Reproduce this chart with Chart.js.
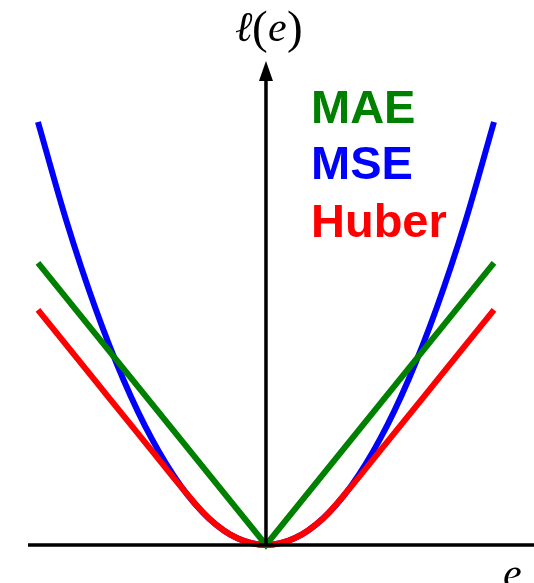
<!DOCTYPE html>
<html>
<head>
<meta charset="utf-8">
<script src="https://cdn.jsdelivr.net/npm/chart.js@4/dist/chart.umd.min.js"></script>
<style>
  html, body { margin: 0; padding: 0; background: #fff; }
  #wrap { width: 534px; height: 583px; position: relative; }
</style>
</head>
<body>
<div id="wrap"><canvas id="lossChart"></canvas></div>
<script>
// error values and loss readings
const maeErrors = [-2, 0, 2];
const maeLoss = [2, 0, 2];

const mseErrors = [-2, -1.75, -1.5, -1.25, -1, -0.75, -0.5, -0.25, 0, 0.25, 0.5, 0.75, 1, 1.25, 1.5, 1.75, 2];
const mseLoss = [3, 2.297, 1.688, 1.172, 0.75, 0.422, 0.188, 0.047, 0, 0.047, 0.188, 0.422, 0.75, 1.172, 1.688, 2.297, 3];

const huberErrors = [-2, -1.75, -1.5, -1.25, -1, -0.75, -0.5, -0.25, 0, 0.25, 0.5, 0.75, 1, 1.25, 1.5, 1.75, 2];
const huberLoss = [1.667, 1.417, 1.167, 0.917, 0.667, 0.417, 0.188, 0.047, 0, 0.047, 0.188, 0.417, 0.667, 0.917, 1.167, 1.417, 1.667];

const seriesNames = ['MAE', 'MSE', 'Huber'];
const seriesColors = ['#008000', '#0000ff', '#ff0000'];

function toPoints(xs, ys) {
    return xs.map((x, i) => ({ x: x, y: ys[i] }));
}

// axes with arrow, axis labels and coloured names
const lossDecor = {
    id: 'lossDecor',
    afterDatasetsDraw(chart) {
        const ctx = chart.ctx;
        const sx = chart.scales.x, sy = chart.scales.y;
        const x0 = sx.getPixelForValue(0);
        const y0 = sy.getPixelForValue(0);
        ctx.save();
        ctx.strokeStyle = '#000';
        ctx.fillStyle = '#000';
        ctx.lineWidth = 3.5;
        ctx.beginPath();
        ctx.moveTo(28, y0);
        ctx.lineTo(chart.width, y0);
        ctx.moveTo(x0, y0);
        ctx.lineTo(x0, 76);
        ctx.stroke();
        ctx.beginPath();
        ctx.moveTo(x0, 61);
        ctx.lineTo(x0 - 7, 81);
        ctx.lineTo(x0 + 7, 81);
        ctx.closePath();
        ctx.fill();

        ctx.textBaseline = 'alphabetic';
        ctx.textAlign = 'left';
        ctx.font = 'italic 42px "Liberation Serif", "DejaVu Serif", serif';
        ctx.fillText('\u2113', 235, 41);
        ctx.fillText('e', 268, 41);
        ctx.font = '47px "Liberation Serif", "DejaVu Serif", serif';
        ctx.fillText('(', 252, 43);
        ctx.fillText(')', 287, 43);
        ctx.font = 'italic 42px "Liberation Serif", "DejaVu Serif", serif';
        ctx.fillText('e', 503, 587);

        ctx.font = 'bold 47px "Liberation Sans", Arial, sans-serif';
        const baselines = [123, 179, 237];
        seriesNames.forEach((name, i) => {
            ctx.fillStyle = seriesColors[i];
            ctx.fillText(name, 311, baselines[i]);
        });
        ctx.restore();
    }
};

new Chart(document.getElementById('lossChart').getContext('2d'), {
    type: 'scatter',
    data: {
        datasets: [
            {
                label: 'MAE',
                data: toPoints(maeErrors, maeLoss),
                borderColor: seriesColors[0],
                showLine: true,
                borderWidth: 6,
                pointRadius: 0,
                order: 1
            },
            {
                label: 'MSE',
                data: toPoints(mseErrors, mseLoss),
                borderColor: seriesColors[1],
                showLine: true,
                borderWidth: 6,
                pointRadius: 0,
                cubicInterpolationMode: 'monotone',
                order: 3
            },
            {
                label: 'Huber',
                data: toPoints(huberErrors, huberLoss),
                borderColor: seriesColors[2],
                showLine: true,
                borderWidth: 6,
                pointRadius: 0,
                cubicInterpolationMode: 'monotone',
                order: 2
            }
        ]
    },
    options: {
        responsive: true,
        maintainAspectRatio: false,
        animation: false,
        layout: { padding: 0 },
        plugins: {
            legend: { display: false },
            tooltip: { enabled: false }
        },
        scales: {
            x: { type: 'linear', min: -2.333, max: 2.351, display: false },
            y: { type: 'linear', min: -0.27, max: 3.865, display: false }
        }
    },
    plugins: [lossDecor]
});
</script>
</body>
</html>
